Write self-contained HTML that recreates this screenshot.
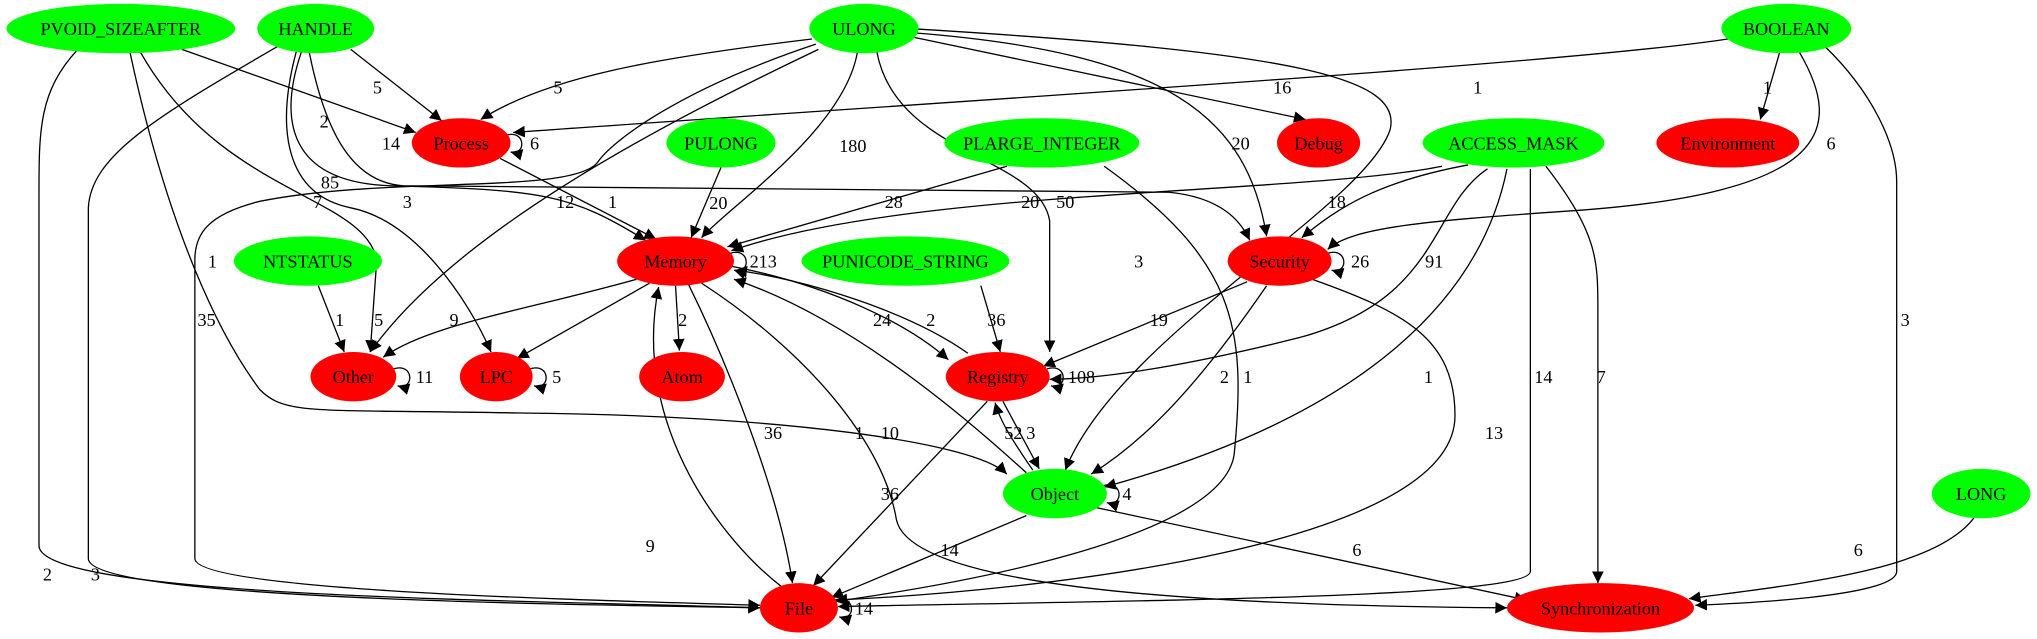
<!DOCTYPE html>
<html><head><meta charset="utf-8"><style>
html,body{margin:0;padding:0;background:#fff;}
svg{display:block;}
text{font-family:"Liberation Serif",serif;font-size:14px;fill:#000;}
.e{fill:none;stroke:#000;stroke-width:1;}
</style></head><body>
<svg width="2037" height="639" viewBox="0 0 1568 492" preserveAspectRatio="none" xmlns="http://www.w3.org/2000/svg">
<defs><marker id="a" viewBox="0 0 10 10" refX="10" refY="5" markerWidth="9" markerHeight="9" markerUnits="userSpaceOnUse" orient="auto"><path d="M0,0 L10,5 L0,10 z" fill="#000"/></marker></defs>
<g class="edges" marker-end="url(#a)">
<path class="e" d="M60,38 C30,70 30,100 30,150 L30,420 C30,460 400,462 585,468"/>
<path class="e" d="M140,38 L320,102"/>
<path class="e" d="M108,40 C170,150 280,150 290,200 L285,271"/>
<path class="e" d="M100,40 C130,180 170,260 200,300 C220,320 240,315 400,318 C600,320 750,340 775,365"/>
<path class="e" d="M270,38 L340,93"/>
<path class="e" d="M215,35 C120,90 70,120 68,160 L68,430 C68,460 400,465 585,468"/>
<path class="e" d="M232,40 C215,90 220,140 300,143 C420,146 440,150 497,185"/>
<path class="e" d="M228,40 C212,100 220,150 270,160 C320,170 360,230 378,271"/>
<path class="e" d="M238,40 C250,100 270,140 310,143 L900,148 C940,152 955,170 962,185"/>
<path class="e" d="M385,122 L505,184"/>
<path class="e" d="M625,30 C500,45 420,60 370,92"/>
<path class="e" d="M700,28 L1005,92"/>
<path class="e" d="M630,38 C500,100 350,180 285,271"/>
<path class="e" d="M628,34 C520,70 470,110 460,125 C440,150 300,135 200,155 C160,165 150,180 150,200 L150,430 C150,455 450,462 585,466"/>
<path class="e" d="M660,40 C650,100 560,160 540,183"/>
<path class="e" d="M700,25 C900,40 960,90 975,182"/>
<path class="e" d="M675,40 C690,120 800,120 808,170 L808,271"/>
<path class="e" d="M700,22 C1000,40 1080,60 1070,100 C1050,160 860,260 820,362"/>
<path class="e" d="M1330,30 C1200,50 700,80 395,102"/>
<path class="e" d="M1370,40 L1355,92"/>
<path class="e" d="M1385,40 C1420,100 1410,150 1200,163 C1100,170 1040,175 1022,192"/>
<path class="e" d="M1405,36 C1440,70 1460,110 1460,140 L1460,440 C1460,460 1330,465 1305,466"/>
<path class="e" d="M555,129 L532,183"/>
<path class="e" d="M775,128 L560,190"/>
<path class="e" d="M850,128 C950,200 960,250 950,350 C940,420 700,455 643,463"/>
<path class="e" d="M1110,128 C1000,150 700,145 563,193"/>
<path class="e" d="M1130,127 C1060,140 1030,160 1002,183"/>
<path class="e" d="M1145,130 C1100,160 1110,230 1000,260 C900,285 840,292 808,292"/>
<path class="e" d="M1160,130 C1140,230 1050,320 850,375"/>
<path class="e" d="M1178,130 L1178,440 C1178,460 900,462 645,467"/>
<path class="e" d="M1190,128 C1230,180 1230,200 1230,240 L1230,449"/>
<path class="e" d="M245,220 L265,271"/>
<path class="e" d="M490,215 C400,240 330,250 295,275"/>
<path class="e" d="M500,218 L398,276"/>
<path class="e" d="M520,220 L523,270"/>
<path class="e" d="M530,219 C560,280 600,380 610,449"/>
<path class="e" d="M540,218 C620,270 680,340 690,400 C700,450 900,466 1160,468"/>
<path class="e" d="M563,205 C640,220 700,250 730,277"/>
<path class="e" d="M745,272 C700,240 620,215 566,208"/>
<path class="e" d="M790,364 C720,300 640,240 565,215"/>
<path class="e" d="M602,452 C560,420 485,330 507,221"/>
<path class="e" d="M760,309 L626,451"/>
<path class="e" d="M772,309 L800,361"/>
<path class="e" d="M795,362 C780,340 770,325 766,310"/>
<path class="e" d="M960,217 L803,282"/>
<path class="e" d="M975,220 C920,300 880,340 840,365"/>
<path class="e" d="M1010,215 C1080,240 1120,260 1120,320 C1120,420 800,455 643,462"/>
<path class="e" d="M755,220 L770,271"/>
<path class="e" d="M790,397 L640,460"/>
<path class="e" d="M840,390 L1175,462"/>
<path class="e" d="M1520,398 C1490,440 1380,450 1300,461"/>
<path class="e" d="M390,104 C405,100 405,120 393,117"/>
<path class="e" d="M562,195 C578,190 578,212 565,208"/>
<path class="e" d="M1022,195 C1038,190 1038,212 1025,208"/>
<path class="e" d="M806,284 C822,279 822,301 809,297"/>
<path class="e" d="M303,284 C319,279 319,301 306,297"/>
<path class="e" d="M408,284 C424,279 424,301 411,297"/>
<path class="e" d="M849,374 C865,369 865,391 852,387"/>
<path class="e" d="M643,462 C659,457 659,479 646,475"/>
</g>
<g>
<ellipse cx="93" cy="22" rx="88" ry="19" fill="#0f0"/><text x="93" y="27" text-anchor="middle">PVOID_SIZEAFTER</text>
<ellipse cx="243" cy="22" rx="45" ry="19" fill="#0f0"/><text x="243" y="27" text-anchor="middle">HANDLE</text>
<ellipse cx="665" cy="22" rx="42" ry="19" fill="#0f0"/><text x="665" y="27" text-anchor="middle">ULONG</text>
<ellipse cx="1375" cy="22" rx="50" ry="19" fill="#0f0"/><text x="1375" y="27" text-anchor="middle">BOOLEAN</text>
<ellipse cx="355" cy="110" rx="38" ry="19" fill="#f00"/><text x="355" y="115" text-anchor="middle">Process</text>
<ellipse cx="555" cy="110" rx="42" ry="19" fill="#0f0"/><text x="555" y="115" text-anchor="middle">PULONG</text>
<ellipse cx="802" cy="110" rx="75" ry="19" fill="#0f0"/><text x="802" y="115" text-anchor="middle">PLARGE_INTEGER</text>
<ellipse cx="1015" cy="110" rx="32" ry="19" fill="#f00"/><text x="1015" y="115" text-anchor="middle">Debug</text>
<ellipse cx="1165" cy="110" rx="70" ry="19" fill="#0f0"/><text x="1165" y="115" text-anchor="middle">ACCESS_MASK</text>
<ellipse cx="1330" cy="110" rx="55" ry="19" fill="#f00"/><text x="1330" y="115" text-anchor="middle">Environment</text>
<ellipse cx="237" cy="201" rx="57" ry="19" fill="#0f0"/><text x="237" y="206" text-anchor="middle">NTSTATUS</text>
<ellipse cx="520" cy="201" rx="45" ry="19" fill="#f00"/><text x="520" y="206" text-anchor="middle">Memory</text>
<ellipse cx="697" cy="201" rx="80" ry="19" fill="#0f0"/><text x="697" y="206" text-anchor="middle">PUNICODE_STRING</text>
<ellipse cx="985" cy="201" rx="40" ry="19" fill="#f00"/><text x="985" y="206" text-anchor="middle">Security</text>
<ellipse cx="272" cy="290" rx="33" ry="19" fill="#f00"/><text x="272" y="295" text-anchor="middle">Other</text>
<ellipse cx="382" cy="290" rx="28" ry="19" fill="#f00"/><text x="382" y="295" text-anchor="middle">LPC</text>
<ellipse cx="525" cy="290" rx="33" ry="19" fill="#f00"/><text x="525" y="295" text-anchor="middle">Atom</text>
<ellipse cx="768" cy="290" rx="40" ry="19" fill="#f00"/><text x="768" y="295" text-anchor="middle">Registry</text>
<ellipse cx="812" cy="380" rx="40" ry="19" fill="#0f0"/><text x="812" y="385" text-anchor="middle">Object</text>
<ellipse cx="1525" cy="380" rx="38" ry="19" fill="#0f0"/><text x="1525" y="385" text-anchor="middle">LONG</text>
<ellipse cx="615" cy="468" rx="30" ry="19" fill="#f00"/><text x="615" y="473" text-anchor="middle">File</text>
<ellipse cx="1232" cy="468" rx="72" ry="19" fill="#f00"/><text x="1232" y="473" text-anchor="middle">Synchronization</text>
</g>
<g>
<text x="33" y="447">2</text><text x="246" y="98">2</text><text x="241" y="160">7</text><text x="160" y="206">1</text>
<text x="287" y="72">5</text><text x="70" y="447">3</text><text x="247" y="145">85</text><text x="428" y="160">12</text>
<text x="310" y="160">3</text><text x="294" y="115">14</text><text x="468" y="160">1</text><text x="426" y="72">5</text>
<text x="980" y="72">16</text><text x="152" y="251">35</text><text x="646" y="117">180</text><text x="948" y="115">20</text>
<text x="813" y="160">50</text><text x="873" y="206">3</text><text x="1134" y="72">1</text><text x="1357" y="72">1</text>
<text x="1406" y="115">6</text><text x="1463" y="251">3</text><text x="546" y="161">20</text><text x="681" y="160">28</text>
<text x="957" y="295">1</text><text x="786" y="160">20</text><text x="1022" y="160">18</text><text x="1097" y="206">91</text>
<text x="1096" y="295">1</text><text x="1181" y="295">14</text><text x="1229" y="295">7</text><text x="258" y="251">1</text>
<text x="288" y="251">5</text><text x="346" y="251">9</text><text x="522" y="251">2</text><text x="588" y="338">36</text>
<text x="658" y="338">1</text><text x="672" y="251">24</text><text x="713" y="251">2</text><text x="678" y="338">10</text>
<text x="497" y="425">9</text><text x="678" y="385">36</text><text x="790" y="338">3</text><text x="773" y="338">52</text>
<text x="885" y="251">19</text><text x="939" y="295">2</text><text x="1143" y="338">13</text><text x="760" y="251">36</text>
<text x="724" y="428">14</text><text x="1041" y="428">6</text><text x="1427" y="428">6</text>
<text x="408" y="115">6</text><text x="577" y="206">213</text><text x="1040" y="206">26</text><text x="822" y="295">108</text>
<text x="320" y="295">11</text><text x="425" y="295">5</text><text x="864" y="385">4</text><text x="658" y="473">14</text>
</g>
</svg>
</body></html>
